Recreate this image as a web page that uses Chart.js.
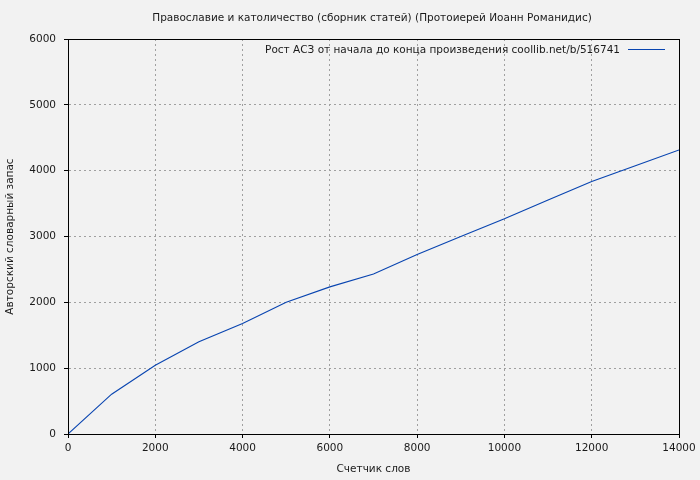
<!DOCTYPE html>
<html><head><meta charset="utf-8">
<script src="https://cdn.jsdelivr.net/npm/chart.js@4"></script>
<style>html,body{margin:0;padding:0;background:#f2f2f2;}#wrap{width:700px;height:480px;}</style>
</head><body><div id="wrap"><canvas id="c" width="700" height="480"></canvas></div>
<script>
const titleText = "Православие и католичество (сборник статей) (Протоиерей Иоанн Романидис)";
const seriesLabel = "Рост АСЗ от начала до конца произведения coollib.net/b/516741";
const xTitle = "Счетчик слов";
const yTitle = "Авторский словарный запас";
const words = [0, 1000, 2000, 3000, 4000, 5000, 6000, 7000, 8000, 9000, 10000, 11000, 12000, 13000, 14000];
const vocab = [0, 605, 1045, 1400, 1680, 2000, 2235, 2430, 2725, 3000, 3268, 3555, 3836, 4075, 4315];
const xMax = 14000, yMax = 6000;

const FONT = "DejaVu Sans";
const FS = 10.5;
const lineColor = "#0844b0";

const frame = {
  id: 'frame',
  afterDraw(chart) {
    const {ctx, chartArea: a} = chart;
    ctx.save();
    ctx.strokeStyle = '#000'; ctx.lineWidth = 1;
    ctx.strokeRect(Math.round(a.left)+0.5, Math.round(a.top)+0.5, Math.round(a.right-a.left), Math.round(a.bottom-a.top));
    ctx.fillStyle = '#1a1a1a';
    ctx.font = FS + 'px "' + FONT + '"';
    ctx.textAlign = 'center'; ctx.textBaseline = 'middle';
    ctx.fillText(titleText, 372, 18);
    ctx.textAlign = 'right';
    ctx.fillText(chart.data.datasets[0].label, 620, 50);
    ctx.strokeStyle = lineColor;
    ctx.beginPath(); ctx.moveTo(628, 49.5); ctx.lineTo(665, 49.5); ctx.stroke();
    ctx.restore();
  }
};

new Chart(document.getElementById('c'), {
  type: 'line',
  data: {
    labels: words,
    datasets: [{
      label: seriesLabel,
      data: words.map((w, i) => ({x: w, y: vocab[i]})),
      borderColor: lineColor, borderWidth: 1.1, pointRadius: 0, tension: 0, fill: false
    }]
  },
  options: {
    responsive: false, animation: false,
    layout: {padding: {left: 0, right: 21, top: 39, bottom: 0}},
    plugins: {legend: {display: false}, title: {display: false}, tooltip: {enabled: false}},
    scales: {
      x: {
        type: 'linear', min: 0, max: xMax,
        afterFit(s) { s.height = 46; },
        ticks: {stepSize: 2000, color: '#1a1a1a', font: {family: FONT, size: FS}, padding: 4, maxRotation: 0,
                callback: v => String(v)},
        grid: {color: '#a0a0a0', lineWidth: 1, tickLength: 4, tickColor: '#000'},
        border: {display: true, color: '#000', dash: [2, 3]},
        title: {display: true, text: xTitle, color: '#1a1a1a', font: {family: FONT, size: FS}, padding: {top: 2, bottom: 4}}
      },
      y: {
        min: 0, max: yMax,
        afterFit(s) { s.width = 68; },
        ticks: {stepSize: 1000, color: '#1a1a1a', font: {family: FONT, size: FS}, padding: 8,
                callback: v => String(v)},
        grid: {color: '#a0a0a0', lineWidth: 1, tickLength: 4, tickColor: '#000'},
        border: {display: true, color: '#000', dash: [2, 3]},
        title: {display: true, text: yTitle, color: '#1a1a1a', font: {family: FONT, size: FS}, padding: {top: 4, bottom: 2}}
      }
    }
  },
  plugins: [frame]
});
</script></body></html>
